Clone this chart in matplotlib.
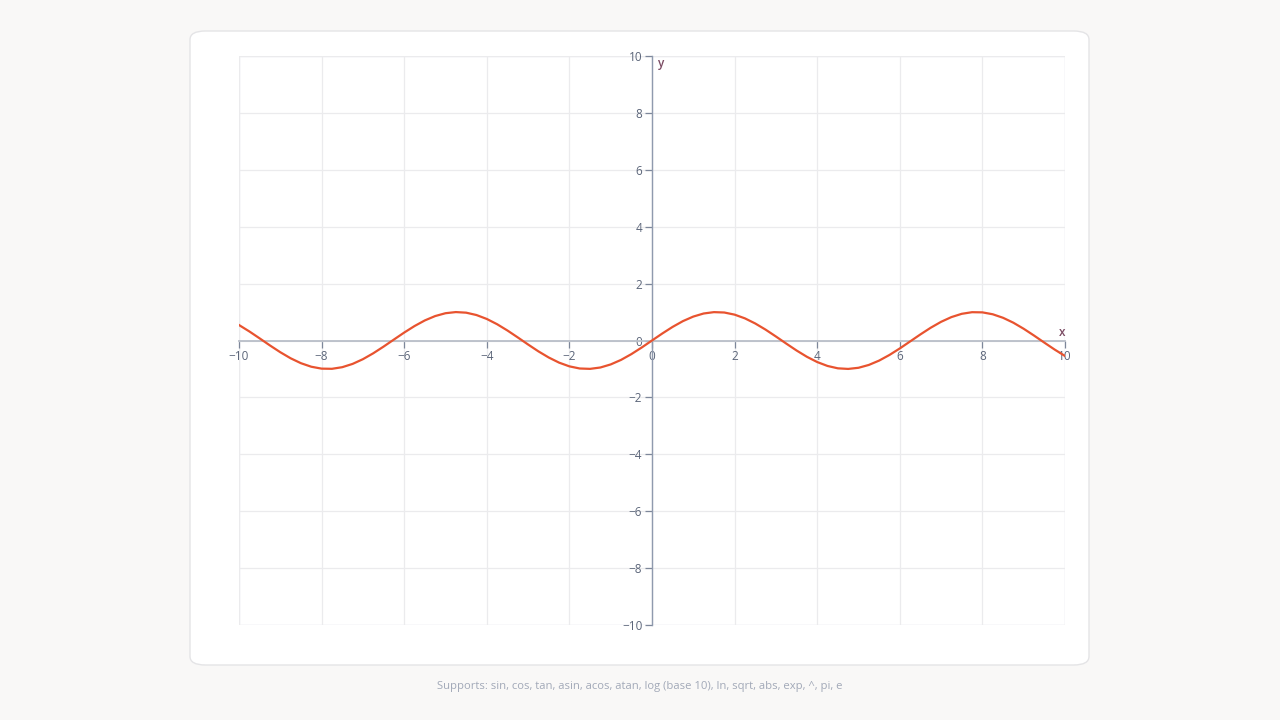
import numpy as np
import matplotlib.pyplot as plt
from matplotlib.patches import FancyBboxPatch, Rectangle

plt.rcParams['font.family'] = ['Open Sans', 'DejaVu Sans']

x_vals = np.arange(-10, 10.001, 0.25)
y_vals = [0.544, 0.319, 0.075, -0.174, -0.412, -0.625, -0.798, -0.922,
          -0.989, -0.995, -0.938, -0.823, -0.657, -0.450, -0.215, 0.033,
          0.279, 0.508, 0.706, 0.859, 0.959, 0.999, 0.978, 0.895,
          0.757, 0.572, 0.351, 0.108, -0.141, -0.382, -0.598, -0.778,
          -0.909, -0.984, -0.997, -0.949, -0.841, -0.682, -0.479, -0.247,
          0.0,
          0.247, 0.479, 0.682, 0.841, 0.949, 0.997, 0.984, 0.909,
          0.778, 0.598, 0.382, 0.141, -0.108, -0.351, -0.572, -0.757,
          -0.895, -0.978, -0.999, -0.959, -0.859, -0.706, -0.508, -0.279,
          -0.033, 0.215, 0.450, 0.657, 0.823, 0.938, 0.995, 0.989,
          0.922, 0.798, 0.625, 0.412, 0.174, -0.075, -0.319, -0.544]
ticks = [-10, -8, -6, -4, -2, 0, 2, 4, 6, 8, 10]
footer = "Supports: sin, cos, tan, asin, acos, atan, log (base 10), ln, sqrt, abs, exp, ^, pi, e"

fig = plt.figure(figsize=(12.8, 7.2), dpi=100)
fig.patch.set_facecolor('#f9f8f7')

card = FancyBboxPatch((190 / 1280, 55 / 720), 899 / 1280, 634 / 720,
                      boxstyle='round,pad=0,rounding_size=0.012',
                      transform=fig.transFigure, facecolor='white',
                      edgecolor='#e4e4e6', linewidth=1, zorder=-5)
fig.patches.append(card)

ax = fig.add_axes([239 / 1280, 95 / 720, 826 / 1280, 569 / 720])
ax.set_zorder(1)
ax.set_facecolor('white')
ax.set_xlim(-10, 10)
ax.set_ylim(-10, 10)

ax.set_xticks(ticks)
ax.set_yticks(ticks)
ax.grid(True, color='#ebebed', linewidth=0.9)
ax.set_axisbelow(True)

for s in ['top', 'right']:
    ax.spines[s].set_visible(False)
ax.spines['left'].set_position(('data', 0))
ax.spines['bottom'].set_position(('data', 0))
ax.spines['left'].set_color('#8f9aae')
ax.spines['bottom'].set_color('#b9bec8')
ax.spines['left'].set_linewidth(1)
ax.spines['bottom'].set_linewidth(1.3)
ax.add_patch(Rectangle((0, 0), 1, 1, transform=ax.transAxes, fill=False,
                       edgecolor='#e6e6e8', linewidth=0.9, zorder=0.5))

ax.tick_params(axis='both', length=5, width=0.9, color='#7d879a',
               labelsize=8.5, labelcolor='#5b6579', pad=2)

ax.plot(x_vals, y_vals, color='#e8532f', linewidth=1.6, zorder=3,
        solid_joinstyle='round')

ax.text(9.93, 0.28, 'x', color='#7a4a62', fontsize=8.5, fontweight='semibold',
        ha='center', va='center')
ax.text(0.15, 9.75, 'y', color='#7a4a62', fontsize=8.5, fontweight='semibold',
        ha='left', va='center')

fig.text(0.5, 1 - 686 / 720, footer, ha='center', va='center',
         color='#a2a9b8', fontsize=8.1)

fig.savefig('out.png', dpi=100, facecolor=fig.get_facecolor())
